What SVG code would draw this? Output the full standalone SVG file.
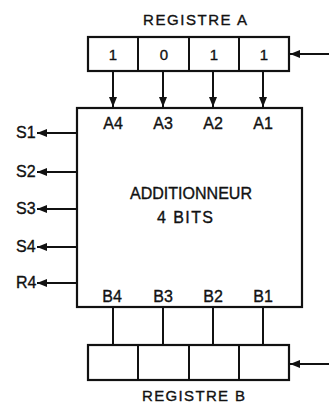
<svg xmlns="http://www.w3.org/2000/svg" width="329" height="406" viewBox="0 0 329 406">
<style>
text{font-family:"Liberation Sans",Arial,sans-serif;font-size:16px;fill:#111;stroke:#111;stroke-width:0.35}
.m{text-anchor:middle}
.t{font-size:15px}
.box{fill:#fff;stroke:#111;stroke-width:2.2}
.ln{stroke:#111;stroke-width:2;fill:none}
</style>
<defs>
<marker id="ah" viewBox="0 0 10 8" refX="10" refY="4" markerWidth="10" markerHeight="8" markerUnits="userSpaceOnUse" orient="auto">
<path d="M0,0 L10,4 L0,8 Z" fill="#111"/>
</marker>
</defs>
<rect width="329" height="406" fill="#fff"/>
<g id="registreA">
<text class="t" x="143" y="25" textLength="104" lengthAdjust="spacing">REGISTRE  A</text>
<rect class="box" x="88" y="37" width="201" height="34"/>
<line class="ln" x1="138" y1="37" x2="138" y2="71"/>
<line class="ln" x1="189" y1="37" x2="189" y2="71"/>
<line class="ln" x1="239" y1="37" x2="239" y2="71"/>
<text class="m t" x="113" y="60">1</text>
<text class="m t" x="164" y="60">0</text>
<text class="m t" x="214" y="60">1</text>
<text class="m t" x="264" y="60">1</text>
</g>
<g id="additionneur">
<rect class="box" x="77" y="108" width="225" height="199"/>
<text class="m" x="113" y="129">A4</text>
<text class="m" x="163" y="129">A3</text>
<text class="m" x="213" y="129">A2</text>
<text class="m" x="263" y="129">A1</text>
<text x="130" y="199" textLength="122" lengthAdjust="spacingAndGlyphs">ADDITIONNEUR</text>
<text x="157" y="223" textLength="56" lengthAdjust="spacing">4 BITS</text>
<text class="m" x="112" y="302">B4</text>
<text class="m" x="163" y="302">B3</text>
<text class="m" x="213" y="302">B2</text>
<text class="m" x="263" y="302">B1</text>
</g>
<g id="registreB">
<rect class="box" x="88" y="345" width="201" height="35"/>
<line class="ln" x1="138" y1="345" x2="138" y2="380"/>
<line class="ln" x1="189" y1="345" x2="189" y2="380"/>
<line class="ln" x1="239" y1="345" x2="239" y2="380"/>
<text class="t" x="142" y="401" textLength="103" lengthAdjust="spacing">REGISTRE  B</text>
</g>
<g id="sorties">
<text x="16" y="138">S1</text>
<text x="16" y="177">S2</text>
<text x="16" y="214">S3</text>
<text x="16" y="252">S4</text>
<text x="16" y="288">R4</text>
</g>
<g id="connectors">
<line class="ln" x1="329" y1="54" x2="290" y2="54" marker-end="url(#ah)"/>
<line class="ln" x1="329" y1="364" x2="290" y2="364" marker-end="url(#ah)"/>
<line class="ln" x1="113" y1="71" x2="113" y2="107" marker-end="url(#ah)"/>
<line class="ln" x1="163" y1="71" x2="163" y2="107" marker-end="url(#ah)"/>
<line class="ln" x1="213" y1="71" x2="213" y2="107" marker-end="url(#ah)"/>
<line class="ln" x1="263" y1="71" x2="263" y2="107" marker-end="url(#ah)"/>
<line class="ln" x1="77" y1="133" x2="37" y2="133" marker-end="url(#ah)"/>
<line class="ln" x1="77" y1="172" x2="37" y2="172" marker-end="url(#ah)"/>
<line class="ln" x1="77" y1="209" x2="37" y2="209" marker-end="url(#ah)"/>
<line class="ln" x1="77" y1="247" x2="37" y2="247" marker-end="url(#ah)"/>
<line class="ln" x1="77" y1="283" x2="37" y2="283" marker-end="url(#ah)"/>
<line class="ln" x1="113" y1="307" x2="113" y2="345"/>
<line class="ln" x1="163" y1="307" x2="163" y2="345"/>
<line class="ln" x1="213" y1="307" x2="213" y2="345"/>
<line class="ln" x1="263" y1="307" x2="263" y2="345"/>
</g>
</svg>
